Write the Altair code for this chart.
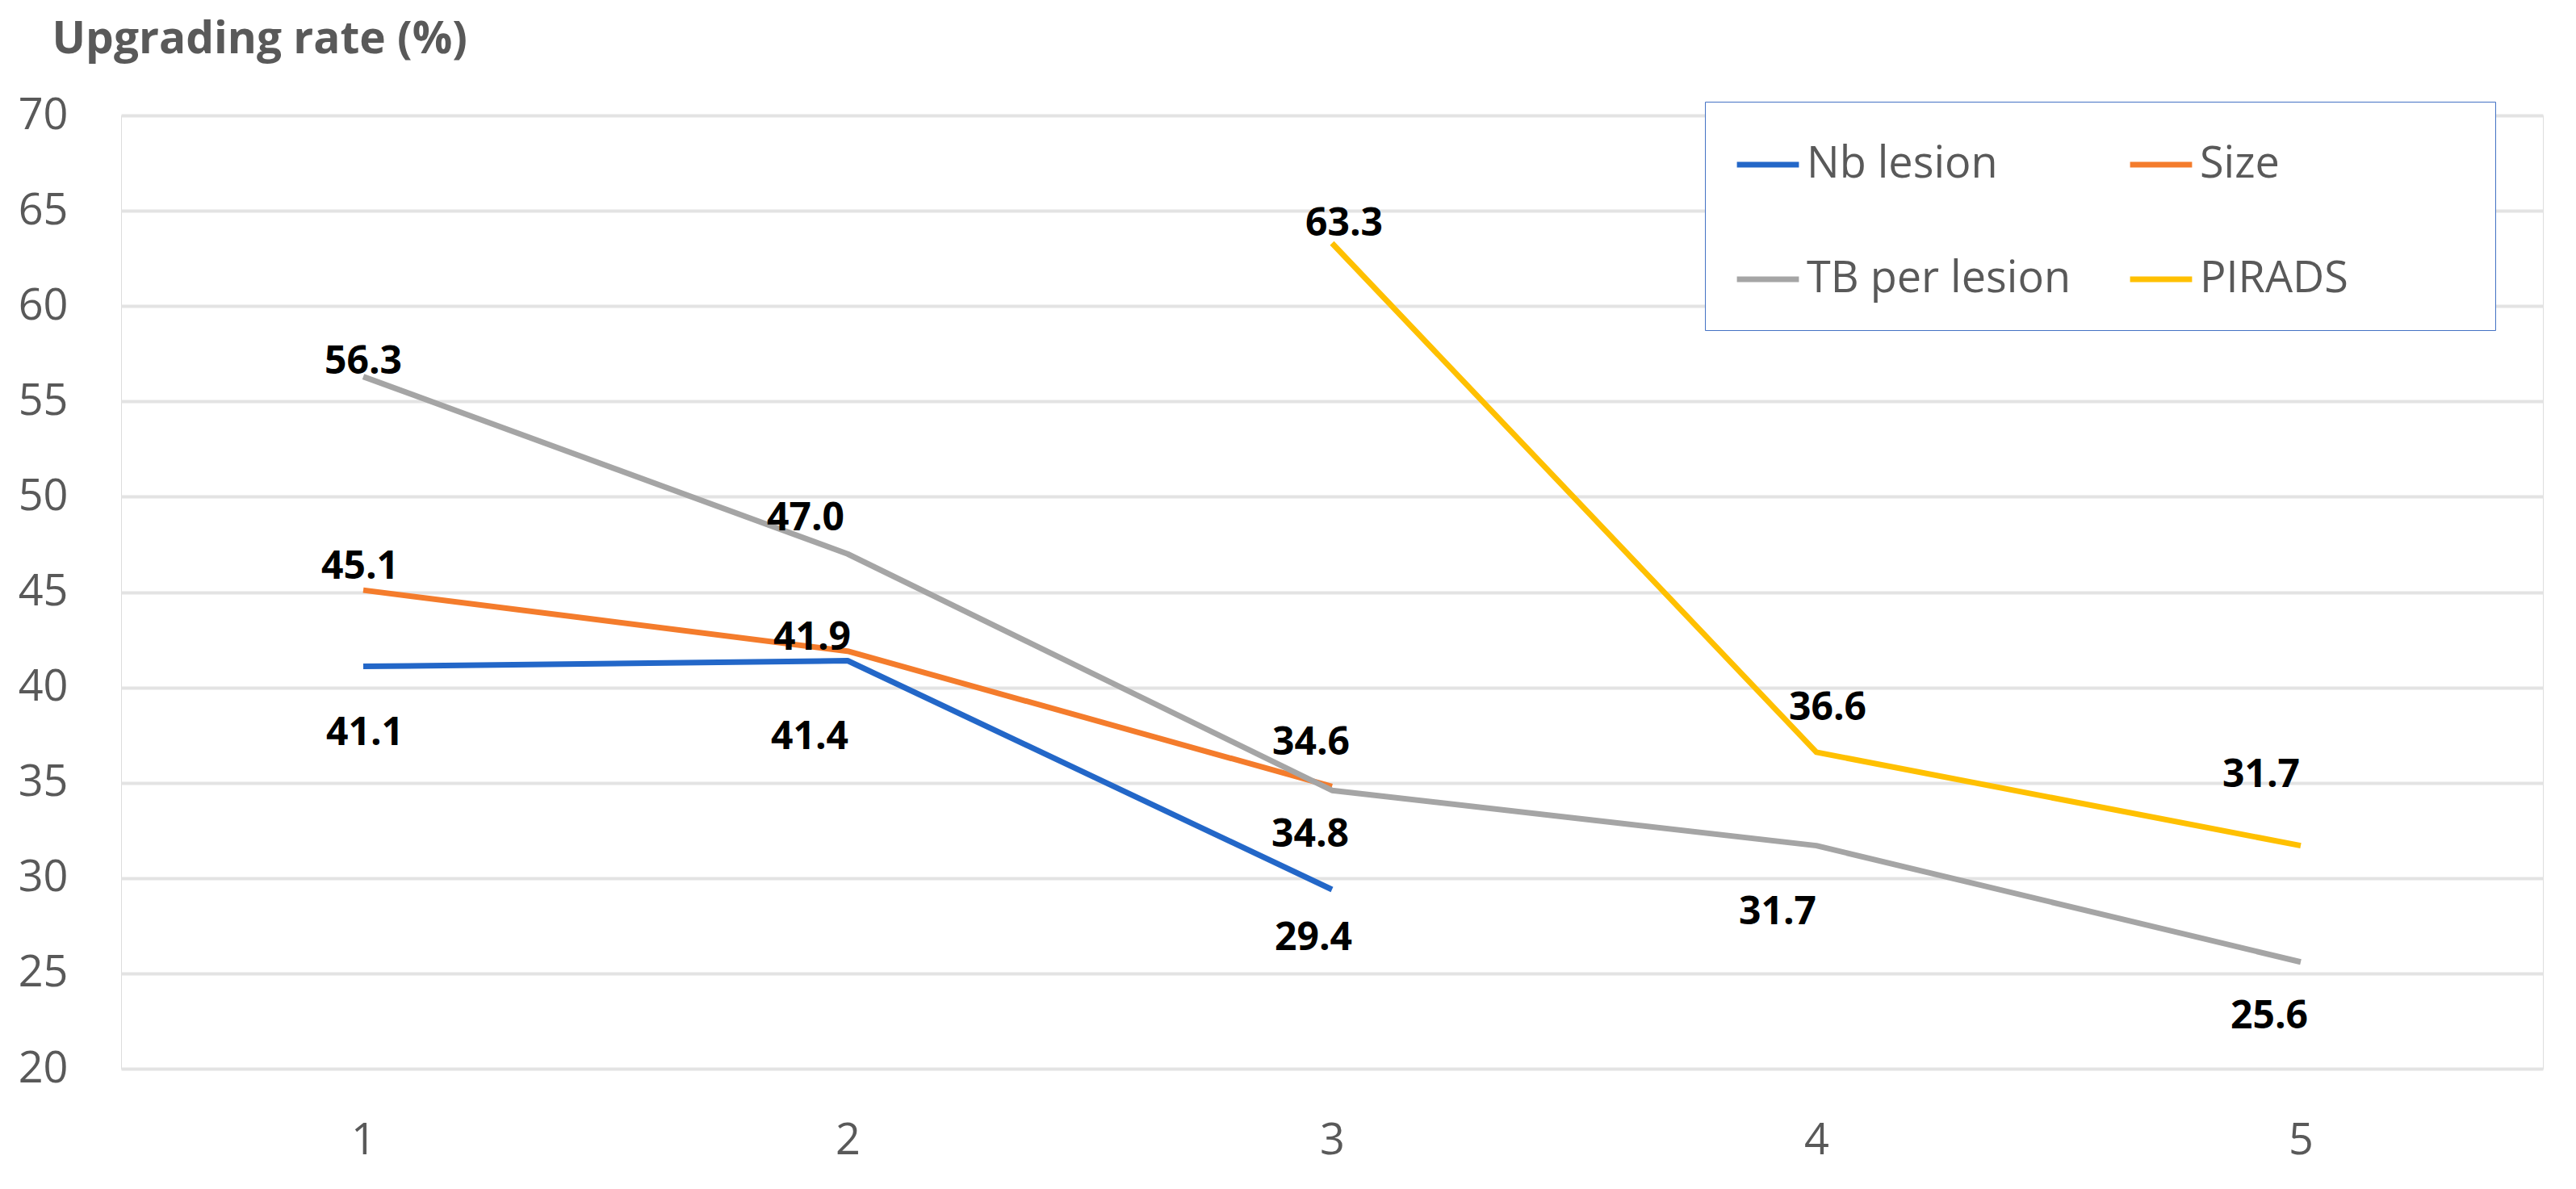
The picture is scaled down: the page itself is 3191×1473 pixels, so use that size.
import altair as alt
import pandas as pd

# ---- data ----
categories = [1, 2, 3, 4, 5]
series_names = ["Nb lesion", "Size", "TB per lesion", "PIRADS"]
nb_lesion = [41.1, 41.4, 29.4, None, None]
size_vals = [45.1, 41.9, 34.8, None, None]
tb_per_lesion = [56.3, 47.0, 34.6, 31.7, 25.6]
pirads = [None, None, 63.3, 36.6, 31.7]
y_ticks = [20, 25, 30, 35, 40, 45, 50, 55, 60, 65, 70]

# ---- label placement (pixel offsets of each value label from its point) ----
label_dx = {
    "Nb lesion": [2, -47, -23, 0, 0],
    "Size": [-4, -44, -27, 0, 0],
    "TB per lesion": [0, -52, -26, -48, -39],
    "PIRADS": [0, 0, 15, 14, -49],
}
label_dy = {
    "Nb lesion": [83, 95, 61, 0, 0],
    "Size": [-28, -16, 61, 0, 0],
    "TB per lesion": [-18, -43, -58, 83, 68],
    "PIRADS": [0, 0, -23, -54, -87],
}

colors = ["#2367C8", "#F47C2C", "#A5A5A5", "#FFC000"]

values = {
    "Nb lesion": nb_lesion,
    "Size": size_vals,
    "TB per lesion": tb_per_lesion,
    "PIRADS": pirads,
}

rows = []
for s in series_names:
    for i, c in enumerate(categories):
        v = values[s][i]
        if v is None:
            continue
        rows.append({
            "cat": str(c),
            "series": s,
            "rate": v,
            "label": f"{v:.1f}",
            "dx": label_dx[s][i],
            "dy": label_dy[s][i],
        })
df = pd.DataFrame(rows)

FONT = "Open Sans"
GRAY_TEXT = "#595959"

x_enc = alt.X(
    "cat:N",
    sort=[str(c) for c in categories],
    scale=alt.Scale(type="point", padding=0.5),
    axis=alt.Axis(
        title=None, labelAngle=0, labelFontSize=54, labelFont=FONT,
        labelColor=GRAY_TEXT, ticks=False, tickSize=0, domain=False,
        grid=False, labelPadding=62, labelBaseline="top",
    ),
)
y_enc = alt.Y(
    "rate:Q",
    scale=alt.Scale(domain=[20, 70], nice=False, zero=False),
    axis=alt.Axis(
        title="Upgrading rate (%)", values=y_ticks, labelFontSize=54,
        labelFont=FONT, labelColor=GRAY_TEXT, ticks=False, tickSize=0,
        domain=False, grid=True, gridColor="#E3E3E3", gridWidth=4,
        labelPadding=66,
        titleAngle=0, titleX=-86, titleY=-78, titleAlign="left",
        titleBaseline="alphabetic", titleFont=FONT, titleFontSize=55,
        titleFontWeight="bold", titleColor=GRAY_TEXT,
    ),
)

# an invisible side title only widens the legend box to the reference's size
color_enc = alt.Color(
    "series:N",
    sort=series_names,
    scale=alt.Scale(domain=series_names, range=colors),
    legend=alt.Legend(
        title="M", titleOrient="right", titleOpacity=0, titleFontSize=54,
        titlePadding=101,
        orient="none", legendX=1962, legendY=-17,
        columns=2, direction="horizontal", symbolType="stroke",
        symbolSize=5900, symbolStrokeWidth=7, labelFontSize=54,
        labelFont=FONT, labelColor=GRAY_TEXT, labelOffset=6,
        columnPadding=58, rowPadding=73, padding=36,
        strokeColor="#4472C4", fillColor="white", labelLimit=1000,
    ),
)

lines = alt.Chart(df).mark_line(strokeWidth=7, strokeJoin="round").encode(
    x=x_enc, y=y_enc, color=color_enc, detail="series:N",
    order=alt.Order("cat:N"),
)

labels = alt.Chart(df).mark_text(
    font=FONT, fontSize=48, fontWeight="bold", color="black",
    align="center", baseline="middle",
    dx={"expr": "datum.dx"}, dy={"expr": "datum.dy"},
).encode(
    x=alt.X("cat:N", sort=[str(c) for c in categories]),
    y=alt.Y("rate:Q"),
    text="label:N",
)

chart = alt.layer(lines, labels).properties(
    width=3000, height=1181,
    autosize=alt.AutoSizeParams(type="none"),
    padding={"left": 142, "top": 135, "right": 33, "bottom": 141},
).configure_view(stroke=None).configure(background="white")

chart.save("out.html", embed_options={"renderer": "svg", "actions": False})
